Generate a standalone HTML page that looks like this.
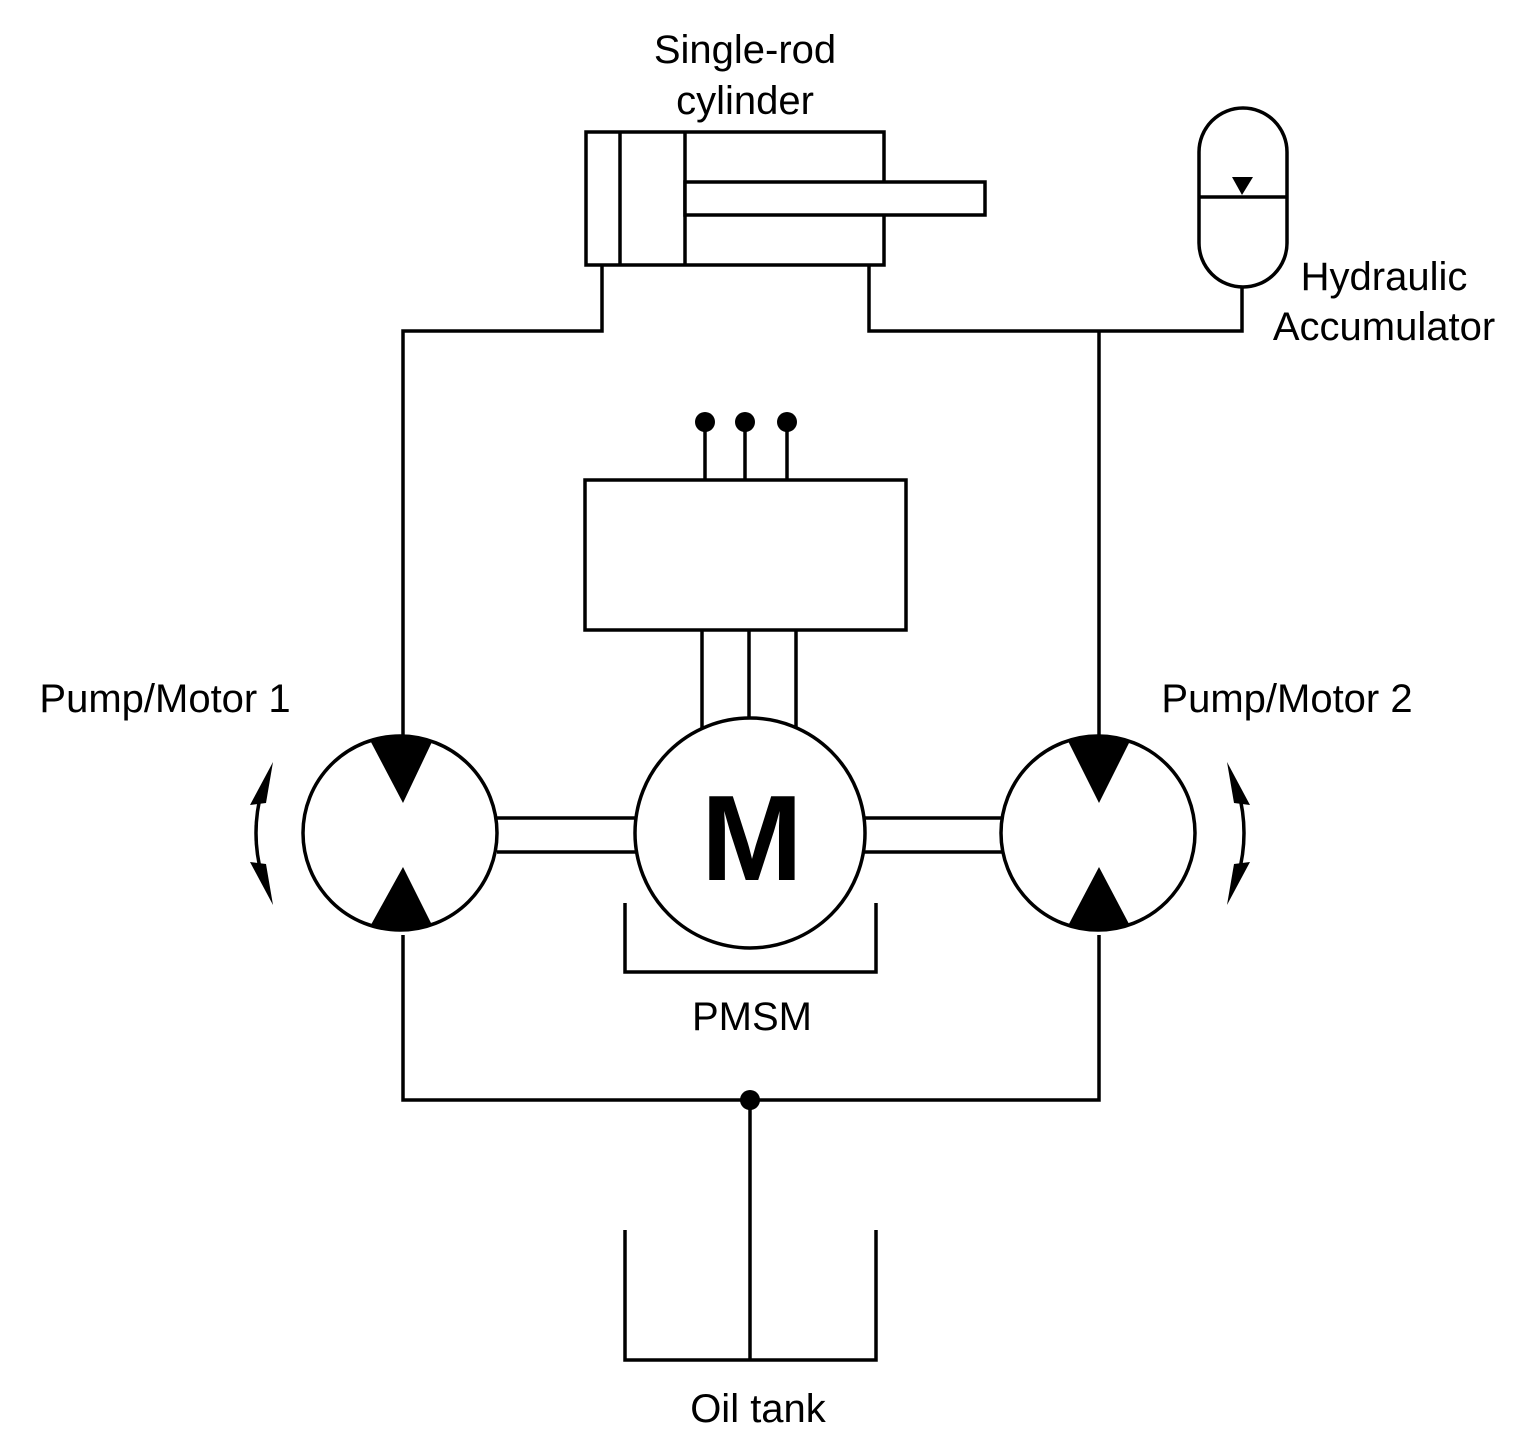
<!DOCTYPE html>
<html><head><style>body{margin:0;background:#fff;overflow:hidden}svg{display:block}text{font-family:"Liberation Sans",sans-serif;fill:#000}</style></head><body>
<svg width="1520" height="1449" viewBox="0 0 1520 1449" xmlns="http://www.w3.org/2000/svg">
<defs><clipPath id="c1"><circle cx="400" cy="833" r="97"/></clipPath><clipPath id="c2"><circle cx="1098" cy="833" r="97"/></clipPath></defs>
<g fill="none" stroke="#000" stroke-width="3.5">
<rect x="586" y="132" width="298" height="133"/>
<line x1="620" y1="132" x2="620" y2="265"/><line x1="685" y1="132" x2="685" y2="265"/>
<rect x="685" y="182" width="300" height="33" fill="#fff"/>
<rect x="1199" y="108" width="88" height="179" rx="44" ry="44"/>
<line x1="1199" y1="197" x2="1287" y2="197"/>
<polyline points="602,265 602,331 403,331 403,740"/>
<polyline points="869,265 869,331 1242,331 1242,287"/>
<line x1="1099" y1="331" x2="1099" y2="740"/>
<polyline points="403,935 403,1100 1099,1100 1099,935"/>
<line x1="750" y1="1100" x2="750" y2="1360"/>
<polyline points="625,1230 625,1360 876,1360 876,1230"/>
<polyline points="625,903 625,972 876,972 876,903"/>
<rect x="585" y="480" width="321" height="150"/>
<line x1="705" y1="422" x2="705" y2="480"/><line x1="745" y1="422" x2="745" y2="480"/><line x1="787" y1="422" x2="787" y2="480"/>
<line x1="702" y1="630" x2="702" y2="728"/><line x1="749" y1="630" x2="749" y2="720"/><line x1="796" y1="630" x2="796" y2="728"/>
<line x1="497" y1="818" x2="636" y2="818"/><line x1="497" y1="852" x2="636" y2="852"/>
<line x1="864" y1="818" x2="1002" y2="818"/><line x1="864" y1="852" x2="1002" y2="852"/>
<circle cx="750" cy="833" r="115" fill="#fff"/>
<circle cx="400" cy="833" r="97"/>
<circle cx="1098" cy="833" r="97"/>
<path d="M262,790 Q250,833 262,876"/>
<path d="M1238,790 Q1250,833 1238,876"/>
</g>
<g fill="#000">
<g clip-path="url(#c1)"><polygon points="362,725 440,725 403,803"/><polygon points="362,941 440,941 403,867"/></g>
<g clip-path="url(#c2)"><polygon points="1060,725 1138,725 1099,803"/><polygon points="1060,941 1138,941 1099,867"/></g>
<polygon points="1232,177 1253,177 1242,195"/>
<circle cx="705" cy="422" r="10"/><circle cx="745" cy="422" r="10"/><circle cx="787" cy="422" r="10"/>
<circle cx="750" cy="1100" r="10"/>
<polygon points="273,762 250,805 266,803"/><polygon points="273,905 250,862 266,864"/>
<polygon points="1227,762 1250,805 1234,803"/><polygon points="1227,905 1250,862 1234,864"/>
</g>
<text x="745" y="63" font-size="40" text-anchor="middle">Single-rod</text>
<text x="745" y="114" font-size="40" text-anchor="middle">cylinder</text>
<text x="1384" y="290" font-size="40" text-anchor="middle">Hydraulic</text>
<text x="1384" y="340" font-size="40" text-anchor="middle">Accumulator</text>
<text x="165" y="712" font-size="40" text-anchor="middle">Pump/Motor 1</text>
<text x="1287" y="712" font-size="40" text-anchor="middle">Pump/Motor 2</text>
<text x="752" y="880" font-size="122" font-weight="bold" text-anchor="middle">M</text>
<text x="752" y="1030" font-size="40" text-anchor="middle">PMSM</text>
<text x="758" y="1422" font-size="40" text-anchor="middle">Oil tank</text>
</svg>
</body></html>
